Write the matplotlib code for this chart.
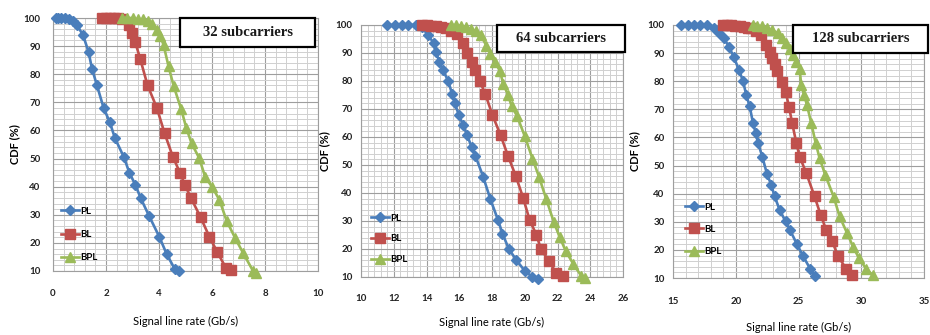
import matplotlib
matplotlib.use('Agg')
import matplotlib.pyplot as plt
from matplotlib.ticker import MultipleLocator
from matplotlib.patches import Rectangle

plt.rcParams['font.family'] = ['Lato', 'DejaVu Sans']

# dados
pl32_x = [0.1, 0.2, 0.3, 0.45, 0.6, 0.75, 0.9, 1.13, 1.34, 1.47, 1.66, 1.91, 2.14, 2.34,
          2.68, 2.88, 3.11, 3.31, 3.62, 4.01, 4.29, 4.6, 4.75]
pl32_y = [100, 100, 100, 100, 99.5, 99, 97.5, 94, 88, 82, 76, 68, 63, 57.2,
          50.4, 45, 40.6, 35.9, 29.7, 22.2, 16, 10.6, 10.1]
bl32_x = [1.85, 2.0, 2.15, 2.3, 2.45, 2.6, 2.85, 2.98, 3.1, 3.29, 3.57, 3.92, 4.21, 4.52,
          4.79, 4.98, 5.21, 5.57, 5.9, 6.19, 6.53, 6.72]
bl32_y = [100, 100, 100, 100, 100, 99.5, 97.5, 94.5, 91.5, 85.5, 76, 68, 59, 50.7,
          45, 40.6, 35.9, 29.1, 22.2, 16.9, 11, 10.3]
bpl32_x = [2.6, 2.8, 3.0, 3.2, 3.4, 3.6, 3.75, 3.92, 4.05, 4.17, 4.36, 4.55, 4.84, 5.03,
           5.23, 5.52, 5.74, 6.01, 6.28, 6.55, 6.88, 7.18, 7.55, 7.66]
bpl32_y = [100, 100, 100, 99.5, 99.5, 99, 98, 95.8, 93.5, 90.5, 82.8, 75.9, 67.5, 60.9,
           55.4, 50.1, 43.5, 39.8, 35.3, 27.9, 21.6, 16.3, 10, 9.2]

pl64_x = [11.6, 12.07, 12.48, 12.9, 13.35, 13.7, 14.1, 14.45, 14.57, 14.78, 15.0, 15.33,
          15.57, 15.73, 15.98, 16.24, 16.48, 16.75, 16.99, 17.46, 17.9, 18.37, 18.64,
          19.02, 19.49, 20.0, 20.47, 20.8]
pl64_y = [100, 100, 100, 100, 100, 99.2, 96.4, 93.4, 90.5, 86.9, 83.9, 80,
          75.2, 72, 67.8, 64.2, 60.7, 56.5, 53.2, 45.8, 37.8, 30.3, 25.5,
          20.1, 16, 12.2, 10, 9.4]
bl64_x = [13.7, 14.0, 14.3, 14.6, 14.9, 15.2, 15.5, 15.85, 16.24, 16.48, 16.75, 16.95,
          17.26, 17.6, 18.03, 18.52, 18.98, 19.45, 19.9, 20.3, 20.71, 20.98, 21.48,
          21.93, 22.34]
bl64_y = [100, 100, 99.7, 99.5, 99.2, 98.8, 98, 96.8, 93.4, 89.9, 86.9, 83.9,
          80, 75.2, 67.8, 60.7, 53.2, 46.1, 38.3, 30.3, 25.1, 20.1, 15.6,
          11.4, 10.3]
bpl64_x = [15.5, 15.8, 16.1, 16.4, 16.7, 17.0, 17.3, 17.66, 17.9, 18.17, 18.48, 18.68,
           18.98, 19.2, 19.53, 20.0, 20.47, 20.87, 21.32, 21.77, 22.13, 22.5, 22.95,
           23.46, 23.66]
bpl64_y = [100, 100, 99.7, 99.2, 98.5, 97.7, 96.5, 92.6, 89.8, 86.9, 83.6, 79.1,
           75, 71, 67.5, 60.3, 52.3, 45.8, 37.7, 29.7, 24.3, 19.3, 14.8,
           10.3, 9.8]

pl128_x = [15.66, 16.2, 16.65, 17.13, 17.7, 18.24, 18.66, 19.04, 19.46, 19.83, 20.26,
           20.57, 20.84, 21.1, 21.37, 21.58, 21.77, 22.11, 22.49, 22.83, 23.1, 23.5,
           23.97, 24.34, 24.88, 25.35, 25.94, 26.3]
pl128_y = [100, 100, 100, 100, 100, 98.8, 97, 95.3, 92.3, 88.7, 84,
           80.2, 75.1, 71.2, 65.3, 61.7, 58.2, 53.2, 47, 43.1, 39, 34.2,
           30.1, 26.9, 22, 17.9, 13.2, 10.8]
bl128_x = [18.98, 19.3, 19.6, 19.95, 20.3, 20.65, 21.0, 21.24, 21.64, 22.0, 22.43, 22.7,
           22.91, 23.1, 23.32, 23.7, 23.97, 24.24, 24.5, 24.82, 25.09, 25.62, 26.28,
           26.76, 27.21, 27.69, 28.14, 28.8, 29.3]
bl128_y = [100, 100, 100, 99.8, 99.6, 99.3, 99, 98.8, 98, 96.5, 92.9, 90.5,
           88.2, 86, 83.8, 79.9, 76.3, 71, 65, 58.2, 53.2, 47.3, 39,
           32.5, 27.1, 23, 17.9, 13.2, 11.1]
bpl128_x = [21.37, 21.7, 22.1, 22.5, 22.9, 23.4, 23.7, 24.03, 24.35, 24.6, 24.82, 25.09,
            25.22, 25.45, 25.67, 26.02, 26.36, 26.68, 27.13, 27.82, 28.27, 28.88,
            29.34, 29.81, 30.4, 30.9]
bpl128_y = [100, 99.8, 99.5, 99, 98.2, 97, 95.5, 93.7, 91.5, 89.5, 87, 84.2,
            78.7, 75, 71.6, 65, 58.2, 52.6, 46.7, 38.7, 31.9, 25.9,
            21.2, 17.1, 13.2, 11.1]

series_names = ['PL', 'BL', 'BPL']
panel_titles = ['32 subcarriers', '64 subcarriers', '128 subcarriers']
panel_data = [
    [(pl32_x, pl32_y), (bl32_x, bl32_y), (bpl32_x, bpl32_y)],
    [(pl64_x, pl64_y), (bl64_x, bl64_y), (bpl64_x, bpl64_y)],
    [(pl128_x, pl128_y), (bl128_x, bl128_y), (bpl128_x, bpl128_y)],
]
x_limits = [(0, 10), (10, 26), (15, 35)]
x_major = [2, 2, 5]
x_minor = [0.4, 0.4, 1]

cores = ['#4A7EBB', '#C0504D', '#9BBB59']
marcadores = ['D', 's', '^']
tam_marc = [5, 6.5, 6.5]

# posicao dos eixos em pixels (esq, dir, topo, base)
eixos_px = [(53, 318, 18, 271), (361, 623, 25, 277), (673, 924, 25, 278)]
caixa_px = [(180, 315, 18, 47), (497, 625, 25, 52), (793, 928, 25, 53)]
legenda_px = [(61, 262, 1.45), (371, 264, 1.2), (685, 256, 1.35)]
ylab_px = [20, 330, 640]
xlab_px = [316, 317, 322]
xpad = [13, 12, 14]
ypad = [9, 6, 6]

W, H = 930, 335
fig = plt.figure(figsize=(9.3, 3.35), dpi=100)

for i in range(3):
    l, r, t, b = eixos_px[i]
    ax = fig.add_axes([l / W, (H - b) / H, (r - l) / W, (b - t) / H])
    for j in range(3):
        xs, ys = panel_data[i][j]
        ax.plot(xs, ys, color=cores[j], marker=marcadores[j], markersize=tam_marc[j],
                lw=1.9, label=series_names[j], clip_on=False, zorder=3)

    ax.set_xlim(*x_limits[i])
    ax.set_ylim(10, 100)
    ax.xaxis.set_major_locator(MultipleLocator(x_major[i]))
    ax.xaxis.set_minor_locator(MultipleLocator(x_minor[i]))
    ax.yaxis.set_major_locator(MultipleLocator(10))
    ax.yaxis.set_minor_locator(MultipleLocator(2))
    ax.grid(which='major', color='#9e9e9e', lw=0.8)
    ax.grid(which='minor', color='#d0d0d0', lw=0.7)
    ax.set_axisbelow(True)
    for s in ax.spines.values():
        s.set_color('#9e9e9e')
        s.set_linewidth(0.8)
    ax.tick_params(which='both', length=0, labelsize=7)
    ax.tick_params(axis='x', pad=xpad[i])
    ax.tick_params(axis='y', pad=ypad[i])
    for lab in ax.get_xticklabels() + ax.get_yticklabels():
        lab.set_fontweight('bold')
        lab.set_color('#222222')

    ax.set_ylabel('CDF (%)', fontsize=8, fontweight='bold')
    ax.yaxis.set_label_coords((ylab_px[i] - l) / (r - l), 0.5)
    ax.set_xlabel('Signal line rate (Gb/s)', fontsize=8)
    ax.xaxis.set_label_coords(0.5, (b - xlab_px[i]) / (b - t))

    # caixa do titulo
    cl, cr, ct, cb = caixa_px[i]
    x0 = (cl - l) / (r - l)
    x1 = (cr - l) / (r - l)
    y0 = (b - cb) / (b - t)
    y1 = (b - ct) / (b - t)
    ax.add_patch(Rectangle((x0, y0), x1 - x0, y1 - y0, transform=ax.transAxes,
                           facecolor='white', edgecolor='black', lw=1.6,
                           clip_on=False, zorder=5))
    ax.text((x0 + x1) / 2, (y0 + y1) / 2, panel_titles[i], transform=ax.transAxes,
            ha='center', va='center', fontsize=10.5, fontweight='bold',
            family='Liberation Serif', color='#1a1a1a', zorder=6)

    lx, ly, esp = legenda_px[i]
    ax.legend(loc='lower left', bbox_to_anchor=((lx - l) / (r - l), (b - ly) / (b - t)),
              frameon=False, borderpad=0, borderaxespad=0, handlelength=1.8,
              handletextpad=0.2, labelspacing=esp,
              prop={'size': 7, 'weight': 'bold'})

fig.savefig('out.png', dpi=100, facecolor='white')
